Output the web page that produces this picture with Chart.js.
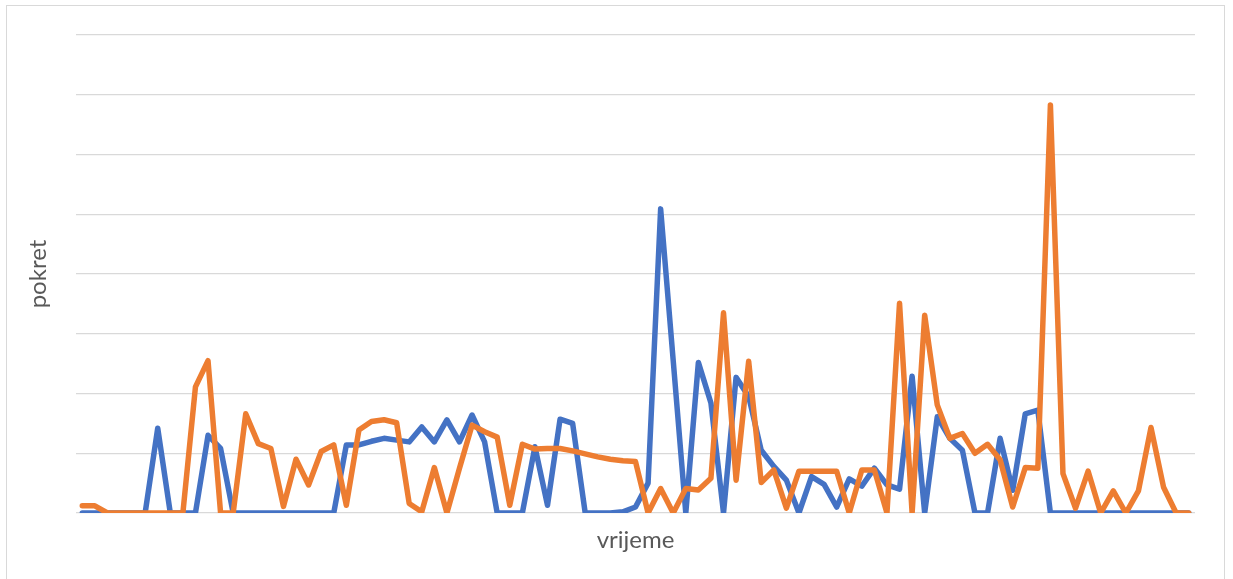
<!DOCTYPE html>
<html>
<head>
<meta charset="utf-8">
<script src="https://cdn.jsdelivr.net/npm/chart.js@4"></script>
<style>
  html, body { margin: 0; padding: 0; background: #fff; overflow: hidden; }
  #frame {
    position: absolute; left: 6px; top: 5px; width: 1219px; height: 620px;
    border: 1px solid #d9d9d9; box-sizing: border-box;
  }
  #chart { position: absolute; left: 0; top: 0; }
</style>
</head>
<body>
<div id="frame"></div>
<canvas id="chart" width="1233" height="579"></canvas>
<script>
// values, one grid step = 10
const blueValues = [
  0, 0, 0, 0, 0, 0, 14.2, 0, 0, 0,
  13.0, 10.8, 0, 0, 0, 0, 0, 0, 0, 0,
  0, 11.4, 11.4, 12.0, 12.5, 12.2, 11.9, 14.4, 11.9, 15.6,
  11.9, 16.4, 11.9, 0, 0, 0, 11.1, 1.3, 15.7, 15.0,
  0, 0, 0, 0.2, 1.0, 5.0, 50.9, 25.5, 0, 25.2,
  18.4, 0, 22.7, 19.5, 10.5, 7.8, 5.5, 0, 6.1, 4.8,
  1.0, 5.7, 4.5, 7.5, 4.7, 4.0, 22.9, 0, 16.1, 12.5,
  10.5, 0, 0, 12.5, 3.8, 16.6, 17.2, 0, 0, 0,
  0, 0, 0, 0, 0, 0, 0, 0, 0
];

const orangeValues = [
  1.2, 1.2, 0, 0, 0, 0, 0, 0, 0, 21.1,
  25.5, 0, 0, 16.6, 11.6, 10.8, 1.1, 9.0, 4.7, 10.3,
  11.4, 1.3, 13.9, 15.3, 15.6, 15.1, 1.6, 0.2, 7.6, 0,
  7.5, 14.7, 13.6, 12.7, 1.3, 11.5, 10.7, 10.8, 10.8, 10.4,
  9.9, 9.4, 9.0, 8.75, 8.6, 0, 4.1, 0, 4.1, 3.85,
  5.8, 33.5, 5.5, 25.4, 5.1, 7.2, 0.8, 7.0, 7.0, 7.0,
  7.0, 0, 7.2, 7.2, 0, 35.1, 0, 33.1, 18.1, 12.5,
  13.3, 10.0, 11.5, 8.9, 1.0, 7.6, 7.5, 68.3, 6.6, 0.8,
  7.0, 0, 3.7, 0, 3.7, 14.3, 4.3, 0, 0
];

const categories = blueValues.map((_, i) => String(i + 1));

const yMin = 0;
const yMax = 80;
const yStep = 10;

const textColor = '#595959';
const titleFont = { family: 'Lato, "Open Sans", sans-serif', size: 24 };

const ctx = document.getElementById('chart').getContext('2d');

new Chart(ctx, {
  type: 'line',
  data: {
    labels: categories,
    datasets: [
      {
        label: 'Serija1',
        data: blueValues,
        borderColor: '#4472C4',
        borderWidth: 5.5,
        pointRadius: 0,
        tension: 0,
        borderJoinStyle: 'round',
        borderCapStyle: 'round',
        order: 1
      },
      {
        label: 'Serija2',
        data: orangeValues,
        borderColor: '#ED7D31',
        borderWidth: 5.5,
        pointRadius: 0,
        tension: 0,
        borderJoinStyle: 'round',
        borderCapStyle: 'round',
        order: 0
      }
    ]
  },
  options: {
    responsive: false,
    animation: false,
    layout: { padding: { left: 20, right: 38, top: 35, bottom: 20 } },
    plugins: {
      legend: { display: false },
      tooltip: { enabled: false }
    },
    scales: {
      x: {
        offset: true,
        grid: { display: false },
        border: { display: false },
        ticks: { display: false },
        title: {
          display: true,
          text: 'vrijeme',
          color: textColor,
          font: titleFont,
          padding: { top: 0, bottom: 4 }
        },
        afterFit: (scale) => { scale.height = 46; }
      },
      y: {
        min: yMin,
        max: yMax,
        ticks: { display: false, stepSize: yStep },
        grid: { color: '#d9d9d9', lineWidth: 1.3, drawTicks: false },
        border: { display: false },
        title: {
          display: true,
          text: 'pokret',
          color: textColor,
          font: titleFont,
          padding: { top: 4, bottom: 0 }
        },
        afterFit: (scale) => { scale.width = 56; }
      }
    }
  }
});
</script>
</body>
</html>
